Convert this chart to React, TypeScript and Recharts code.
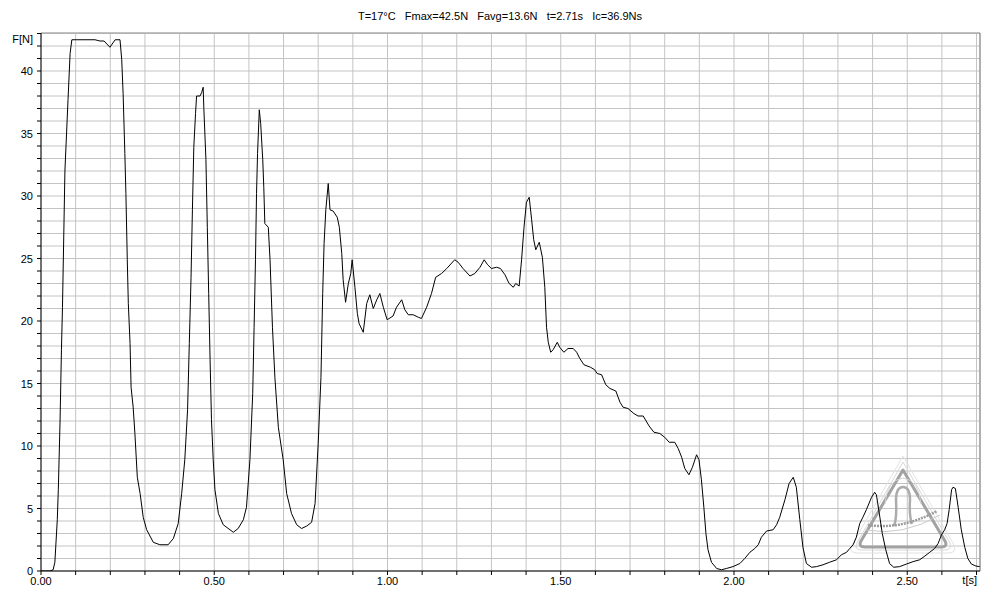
import React from 'react';
import { LineChart, Line, XAxis, YAxis, CartesianGrid, ReferenceLine, Customized } from 'recharts';

// ---- data (time in s, force in N) ----
const S1_T = [0, 0.026, 0.035, 0.040, 0.047, 0.050, 0.055, 0.059, 0.062, 0.069, 0.078, 0.084, 0.089, 0.156, 0.170, 0.182, 0.199, 0.214, 0.228, 0.233, 0.237, 0.242, 0.245, 0.249, 0.252, 0.257, 0.260, 0.266, 0.271, 0.278, 0.286, 0.295, 0.305, 0.324, 0.343];
const S1_F = [0, 0, 0.1, 0.7, 4.1, 6.5, 12, 17.7, 21.1, 32, 37.7, 41.4, 42.5, 42.5, 42.4, 42.4, 41.9, 42.5, 42.5, 40.9, 38.2, 33.4, 30.2, 24.9, 21.4, 18.2, 14.7, 13.1, 11.0, 7.5, 6.2, 4.3, 3.3, 2.3, 2.1];

const S2_T = [0.367, 0.382, 0.396, 0.406, 0.415, 0.423, 0.428, 0.433, 0.437, 0.441, 0.446, 0.449, 0.459, 0.464, 0.468, 0.470, 0.476, 0.480, 0.484, 0.488, 0.492, 0.497, 0.502, 0.512, 0.526, 0.555];
const S2_F = [2.1, 2.6, 3.8, 6.2, 8.9, 12.9, 18.2, 23.5, 28.9, 33.9, 36.6, 38.0, 38.0, 38.3, 38.7, 37.0, 32.9, 27.5, 22.2, 16.9, 12.1, 8.9, 6.5, 4.6, 3.7, 3.1];

const S3_T = [0.569, 0.584, 0.593, 0.603, 0.611, 0.615, 0.619, 0.622, 0.625, 0.630, 0.634, 0.640, 0.643, 0.646, 0.656, 0.661, 0.668, 0.675, 0.685, 0.699, 0.709, 0.723, 0.738, 0.752, 0.767, 0.781, 0.791];
const S3_F = [3.4, 4.1, 5.1, 8.9, 14.2, 19.5, 24.9, 30.2, 33.4, 36.9, 35.8, 32.9, 30.7, 27.8, 27.5, 24.9, 19.5, 15.5, 11.5, 8.9, 6.2, 4.6, 3.7, 3.4, 3.6, 3.9, 5.4];

const S4_T = [0.800, 0.808, 0.813, 0.817, 0.822, 0.829, 0.834, 0.843, 0.855, 0.861, 0.868, 0.872, 0.879, 0.887, 0.894, 0.898, 0.906, 0.913, 0.918, 0.930, 0.940, 0.949, 0.959, 0.969, 0.978, 0.988, 0.999, 1.016, 1.026, 1.041, 1.050, 1.060, 1.074, 1.089, 1.098, 1.113, 1.127, 1.139, 1.156, 1.171, 1.194, 1.204, 1.218, 1.238, 1.252, 1.267, 1.279, 1.289, 1.300, 1.315, 1.326, 1.339, 1.351, 1.363, 1.370, 1.380, 1.387, 1.394, 1.401, 1.409, 1.416, 1.422, 1.428, 1.438, 1.447];
const S4_F = [10.2, 15.5, 22.2, 26.2, 28.9, 31.0, 28.9, 28.8, 28.3, 27.5, 25.4, 23.3, 21.5, 23.0, 23.8, 24.9, 22.7, 20.6, 19.8, 19.1, 21.4, 22.1, 21.0, 21.7, 22.2, 21.1, 20.1, 20.4, 21.1, 21.7, 20.9, 20.5, 20.5, 20.3, 20.2, 21.1, 22.2, 23.5, 23.8, 24.2, 24.9, 24.7, 24.2, 23.6, 23.8, 24.3, 24.9, 24.5, 24.2, 24.3, 24.2, 23.7, 23.0, 22.7, 23.0, 22.8, 24.9, 27.5, 29.5, 29.9, 28.1, 26.5, 25.7, 26.3, 25.1];

const S5_T = [1.454, 1.459, 1.464, 1.471, 1.478, 1.490, 1.497, 1.509, 1.521, 1.536, 1.546, 1.555, 1.567, 1.586, 1.598, 1.605, 1.618, 1.630, 1.642, 1.659, 1.671, 1.680, 1.694, 1.711, 1.723, 1.738, 1.755, 1.769, 1.786, 1.800, 1.813, 1.829, 1.839, 1.849, 1.858, 1.870, 1.880, 1.892, 1.899, 1.906, 1.913, 1.919, 1.925, 1.935];
const S5_F = [22.7, 19.5, 18.3, 17.5, 17.7, 18.3, 17.9, 17.5, 17.8, 17.8, 17.5, 17.0, 16.5, 16.3, 16.1, 15.8, 15.7, 14.9, 14.6, 14.4, 13.5, 13.1, 13.0, 12.6, 12.4, 12.4, 11.6, 11.1, 11.0, 10.7, 10.3, 10.3, 9.8, 9.1, 8.2, 7.7, 8.3, 9.3, 8.9, 7.3, 5.1, 3.0, 1.7, 0.7];

const S6_T = [1.950, 1.964, 1.978, 1.997, 2.017, 2.031, 2.046, 2.060, 2.070, 2.079, 2.094, 2.113, 2.123, 2.132, 2.147, 2.159, 2.171, 2.180, 2.190, 2.199, 2.209, 2.224, 2.238, 2.257, 2.276, 2.296, 2.310, 2.325, 2.334, 2.344, 2.353, 2.363, 2.372, 2.382, 2.397, 2.406, 2.411, 2.421, 2.428, 2.438, 2.449, 2.461, 2.478, 2.498, 2.517, 2.536, 2.551, 2.565, 2.579, 2.589, 2.599, 2.608, 2.615, 2.621, 2.628, 2.632, 2.639, 2.647, 2.656, 2.666, 2.675, 2.685, 2.698, 2.709];
const S6_F = [0.2, 0.1, 0.2, 0.35, 0.6, 1.0, 1.5, 1.8, 2.1, 2.7, 3.2, 3.3, 3.7, 4.3, 5.7, 7.0, 7.5, 6.7, 4.1, 1.9, 0.6, 0.3, 0.35, 0.5, 0.7, 0.9, 1.3, 1.5, 1.8, 2.1, 2.7, 3.8, 4.3, 4.9, 5.9, 6.3, 6.1, 4.3, 3.0, 1.7, 0.6, 0.3, 0.35, 0.56, 0.75, 0.9, 1.2, 1.5, 1.8, 2.2, 2.9, 3.3, 3.8, 4.9, 6.5, 6.7, 6.6, 5.1, 3.3, 1.9, 1.0, 0.56, 0.4, 0.35];

const X_TICKS = [0, 0.1, 0.2, 0.3, 0.4, 0.5, 0.6, 0.7, 0.8, 0.9, 1.0, 1.1, 1.2, 1.3, 1.4, 1.5, 1.6, 1.7, 1.8, 1.9, 2.0, 2.1, 2.2, 2.3, 2.4, 2.5, 2.6, 2.7];
const X_LABELS = [0, 0.5, 1.0, 1.5, 2.0, 2.5];
const Y_TICKS = [0, 1, 2, 3, 4, 5, 6, 7, 8, 9, 10, 11, 12, 13, 14, 15, 16, 17, 18, 19, 20, 21, 22, 23, 24, 25, 26, 27, 28, 29, 30, 31, 32, 33, 34, 35, 36, 37, 38, 39, 40, 41, 42, 43];
const Y_LABELS = [0, 5, 10, 15, 20, 25, 30, 35, 40];
const X_MAX = 2.71;
const Y_MAX = 43.04;

const TITLE = 'T=17°C   Fmax=42.5N   Favg=13.6N   t=2.71s   Ic=36.9Ns';
const Y_NAME = 'F[N]';
const X_NAME = 't[s]';

const ALL_T = [...S1_T, ...S2_T, ...S3_T, ...S4_T, ...S5_T, ...S6_T];
const ALL_F = [...S1_F, ...S2_F, ...S3_F, ...S4_F, ...S5_F, ...S6_F];
const data = ALL_T.map((t, i) => ({ t, f: ALL_F[i] }));

const FONT = '"Liberation Sans", Arial, sans-serif';

const XTick = (props: any) => {
  const { x, y, payload } = props;
  const v = payload.value;
  const isLabel = X_LABELS.some((l) => Math.abs(l - v) < 1e-6);
  if (!isLabel) return <g />;
  return (
    <text x={x} y={y + 8} textAnchor="middle" fontFamily={FONT} fontSize={11} fill="#000">
      {v.toFixed(2)}
    </text>
  );
};

const YTick = (props: any) => {
  const { x, y, payload } = props;
  const v = payload.value;
  if (!Y_LABELS.includes(v)) return <g />;
  return (
    <text x={x} y={y + 4} textAnchor="end" fontFamily={FONT} fontSize={11} fill="#000">
      {String(v)}
    </text>
  );
};

const Decorations = () => (
  <g>
    <text x={500} y={20} textAnchor="middle" fontFamily={FONT} fontSize={11} fill="#000" style={{ whiteSpace: 'pre' }}>
      {TITLE}
    </text>
    <text x={33} y={43} textAnchor="end" fontFamily={FONT} fontSize={11} fill="#000">
      {Y_NAME}
    </text>
    <text x={977} y={584} textAnchor="end" fontFamily={FONT} fontSize={11} fill="#000">
      {X_NAME}
    </text>
  </g>
);

const Watermark = () => (
  <g fill="none">
    <path d="M903,456 L954,545 Q957,553 948,553 L857,553 Q848,553 852,545 Z" stroke="#e2e2e2" strokeWidth={1} />
    <path d="M903,462 L950,543 Q952,550 945,550 L861,550 Q854,550 857,543 Z" stroke="#d8d8d8" strokeWidth={1} />
    <path d="M903,470 L945,541 Q948,547 941,547 L865,547 Q858,547 861,541 Z" stroke="#a2a2a2" strokeWidth={3} strokeLinejoin="round" />
    <path d="M894,526 Q897,518 896,500 Q896,487 903,487 Q910,487 910,500 Q909,516 912,524" stroke="#acacac" strokeWidth={2.5} />
    <path d="M885,504 Q887,480 903,478 Q919,480 921,504" stroke="#d4d4d4" strokeWidth={1} />
    <path d="M868,525 Q902,530 937,511" stroke="#9c9c9c" strokeWidth={2.5} strokeDasharray="2 1" />
    <path d="M866,530 Q902,537 940,515" stroke="#cccccc" strokeWidth={1} />
  </g>
);

export default function App() {
  return (
    <div style={{ position: 'absolute', left: 0, top: 0, width: 1000, height: 600, background: '#fff' }}>
      <LineChart
        width={1000}
        height={600}
        data={data}
        margin={{ top: 33, right: 20, bottom: 0, left: 0 }}
      >
        <CartesianGrid stroke="#c4c4c4" strokeWidth={1} />
        <Customized component={Watermark} />
        <XAxis
          dataKey="t"
          type="number"
          domain={[0, X_MAX]}
          ticks={X_TICKS}
          allowDataOverflow
          height={29}
          tickSize={4}
          tickMargin={2}
          tick={<XTick />}
          axisLine={{ stroke: '#000' }}
          tickLine={{ stroke: '#000' }}
          interval={0}
        />
        <YAxis
          type="number"
          domain={[0, Y_MAX]}
          ticks={Y_TICKS}
          allowDataOverflow
          width={41}
          tickSize={4}
          tickMargin={4}
          tick={<YTick />}
          axisLine={{ stroke: '#000' }}
          tickLine={{ stroke: '#000' }}
          interval={0}
        />
        <ReferenceLine y={Y_MAX} stroke="#a0a0a0" ifOverflow="visible" />
        <ReferenceLine x={X_MAX} stroke="#808080" ifOverflow="visible" />
        <Line
          type="linear"
          dataKey="f"
          stroke="#000"
          strokeWidth={1}
          dot={false}
          activeDot={false}
          isAnimationActive={false}
        />
        <Customized component={Decorations} />
      </LineChart>
    </div>
  );
}
